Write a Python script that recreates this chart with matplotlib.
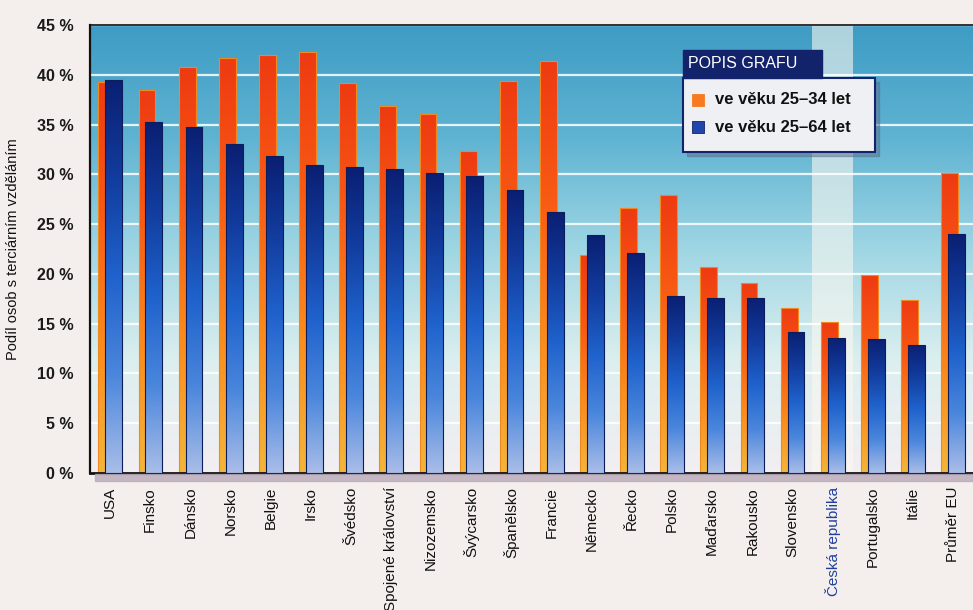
import numpy as np
import matplotlib
matplotlib.use("Agg")
import matplotlib.pyplot as plt
from matplotlib.colors import LinearSegmentedColormap
from matplotlib.patches import Rectangle

plt.rcParams['font.family'] = ['Liberation Sans Narrow', 'Liberation Sans', 'DejaVu Sans']

countries = ["USA", "Finsko", "Dánsko", "Norsko", "Belgie", "Irsko", "Švédsko",
             "Spojené království", "Nizozemsko", "Švýcarsko", "Španělsko", "Francie",
             "Německo", "Řecko", "Polsko", "Maďarsko", "Rakousko", "Slovensko",
             "Česká republika", "Portugalsko", "Itálie", "Průměr EU"]
age_25_34 = [39.3, 38.5, 40.8, 41.7, 42.0, 42.3, 39.2, 36.9, 36.1, 32.3, 39.4, 41.4,
             21.9, 26.6, 27.9, 20.7, 19.1, 16.6, 15.2, 19.9, 17.4, 30.1]
age_25_64 = [39.5, 35.3, 34.8, 33.0, 31.8, 30.9, 30.7, 30.5, 30.1, 29.8, 28.4, 26.2,
             23.9, 22.1, 17.8, 17.6, 17.6, 14.2, 13.6, 13.5, 12.9, 24.0]
series_labels = ["ve věku 25–34 let", "ve věku 25–64 let"]
yticks = [0, 5, 10, 15, 20, 25, 30, 35, 40, 45]
highlight = "Česká republika"

W, H = 973, 610
fig = plt.figure(figsize=(W / 100, H / 100), dpi=100)
fig.patch.set_facecolor("#f4eeec")
ax = fig.add_axes([90 / W, 1 - 473 / H, 1 - 90 / W, (473 - 25) / H])

x = np.arange(len(countries))
xmin, xmax, ymin, ymax = -0.5, len(countries) - 0.5, 0, 45

# plot-area background: teal at the top fading to pale at the bottom
bg_cmap = LinearSegmentedColormap.from_list(
    "bg", ["#f3eef2", "#dcefef", "#9fd6e4", "#5fb3d2", "#3e9cc4"])
grad = np.linspace(0, 1, 256).reshape(-1, 1)
ax.imshow(grad, extent=[xmin, xmax, ymin, ymax], origin="lower", cmap=bg_cmap,
          aspect="auto", zorder=0, interpolation="bicubic")
hi = countries.index(highlight)
ax.axvspan(hi - 0.5, hi + 0.5, color="#fbf8f0", alpha=0.6, zorder=0.5, lw=0)

for t in yticks[1:]:
    ax.axhline(t, color="white", lw=1.6, alpha=0.85, zorder=1)

w = 0.42
orange_cmap = LinearSegmentedColormap.from_list("o", ["#f3b63a", "#fb8a1c", "#f85a14", "#ee3a12"])
blue_cmap = LinearSegmentedColormap.from_list("b", ["#a9bde8", "#4a86dc", "#1f62cc", "#123c9e", "#0a1f72"])

def gradient_bars(xpos, vals, cmap, z, edge):
    bars = ax.bar(xpos, vals, width=w, color="none", edgecolor=edge, lw=0.8, zorder=z + 0.1)
    for b in bars:
        x0, y0 = b.get_x(), b.get_y()
        img = ax.imshow(grad, extent=[x0, x0 + b.get_width(), y0, y0 + b.get_height()],
                        origin="lower", cmap=cmap, aspect="auto", zorder=z,
                        interpolation="bicubic")
        img.set_clip_path(b)
    return bars

gradient_bars(x - 0.08, age_25_34, orange_cmap, 2, "#f08a20")
gradient_bars(x + 0.09, age_25_64, blue_cmap, 3, "#0b1d5a")

ax.set_xlim(xmin, xmax)
ax.set_ylim(ymin, ymax)
ax.set_yticks(yticks)
ax.set_yticklabels([f"{t} %" for t in yticks], fontsize=11.5, fontweight="bold", color="#1a1a1a")
ax.set_xticks(x)
ax.set_xticklabels(countries, rotation=90, fontsize=11, color="#111111")
for lab in ax.get_xticklabels():
    if lab.get_text() == highlight:
        lab.set_color("#1f3f9f")
ax.tick_params(axis="both", length=0)
ax.tick_params(axis="x", pad=10)
ax.tick_params(axis="y", pad=12)
ax.set_ylabel("Podíl osob s terciárním vzděláním", fontsize=10.5, color="#111111", labelpad=12)

for side in ["left", "bottom", "top"]:
    ax.spines[side].set_color("#111111")
ax.spines["left"].set_linewidth(1.6)
ax.spines["bottom"].set_linewidth(2.0)
ax.spines["top"].set_linewidth(1.2)
ax.spines["right"].set_visible(False)

# shadow below the baseline
fig.patches.append(Rectangle((95 / W, 1 - 481 / H), 1 - 95 / W, 7 / H,
                             transform=fig.transFigure, color="#b8a9b8", alpha=0.8, zorder=0))

# legend box with its header
lx0, lx1 = 683 / W, 875 / W
ly_top, ly_bot = 1 - 78 / H, 1 - 152 / H
fig.patches.append(Rectangle((lx0 + 4 / W, ly_bot - 4 / H), lx1 - lx0, ly_top - ly_bot,
                             transform=fig.transFigure, color="#5a6e8a", alpha=0.5, zorder=5))
fig.patches.append(Rectangle((lx0, ly_bot), lx1 - lx0, ly_top - ly_bot,
                             transform=fig.transFigure, facecolor="#eef0f4",
                             edgecolor="#13236b", lw=1.5, zorder=6))
fig.patches.append(Rectangle((lx0, ly_top), 822 / W - lx0, 28 / H,
                             transform=fig.transFigure, facecolor="#13236b",
                             edgecolor="#13236b", lw=1, zorder=6))
fig.text(688 / W, 1 - 63 / H, "POPIS GRAFU", color="white", fontsize=11.5,
         va="center", ha="left", zorder=7)
for k, (lab, c) in enumerate(zip(series_labels, ["#f77a20", "#1f46a8"])):
    yc = 100 + 27 * k
    fig.patches.append(Rectangle((692 / W, 1 - (yc + 6) / H), 12 / W, 12 / H,
                                 transform=fig.transFigure, facecolor=c,
                                 edgecolor="#13236b" if k else c, lw=0.6, zorder=7))
    fig.text(715 / W, 1 - yc / H, lab, color="#111111", fontsize=12, fontweight="bold",
             va="center", ha="left", zorder=7)

fig.savefig("out.png", dpi=100, facecolor=fig.get_facecolor())
